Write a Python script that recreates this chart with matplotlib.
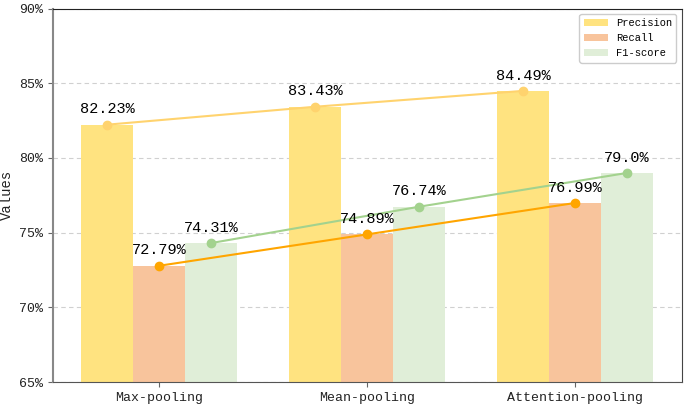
import matplotlib.pyplot as plt
import numpy as np
from matplotlib.ticker import FuncFormatter

plt.rcParams['font.family'] = ['Liberation Mono', 'DejaVu Sans Mono']

methods = ['Max-pooling', 'Mean-pooling', 'Attention-pooling']
precision = [82.23, 83.43, 84.49]
recall = [72.79, 74.89, 76.99]
f1 = [74.31, 76.74, 79.0]
f1_labels = ['74.31%', '76.74%', '79.0%']

x = np.arange(len(methods))
w = 0.25

fig = plt.figure(figsize=(6.85, 4.07), dpi=100)
ax = fig.add_axes([0.077, 0.061, 0.918, 0.918])

ax.bar(x - w, precision, w, color='#FFE380', label='Precision', zorder=2)
ax.bar(x, recall, w, color='#F8C49C', label='Recall', zorder=2)
ax.bar(x + w, f1, w, color='#E0EED8', label='F1-score', zorder=2)

ax.plot(x - w, precision, '-o', color='#FFD36E', lw=1.5, ms=6, zorder=3)
ax.plot(x, recall, '-o', color='#FFA500', lw=1.5, ms=6, zorder=3)
ax.plot(x + w, f1, '-o', color='#A3D28E', lw=1.5, ms=6, zorder=3)

for i in range(len(methods)):
    ax.annotate(f'{precision[i]}%', (x[i] - w, precision[i]), xytext=(0, 6),
                textcoords='offset points', ha='center', va='bottom', fontsize=11)
    ax.annotate(f'{recall[i]}%', (x[i], recall[i]), xytext=(0, 6),
                textcoords='offset points', ha='center', va='bottom', fontsize=11)
    ax.annotate(f1_labels[i], (x[i] + w, f1[i]), xytext=(0, 6),
                textcoords='offset points', ha='center', va='bottom', fontsize=11)

ax.set_ylim(65, 90)
ax.set_yticks([65, 70, 75, 80, 85, 90])
ax.yaxis.set_major_formatter(FuncFormatter(lambda v, p: f'{v:.0f}%'))
ax.set_xticks(x)
ax.set_xticklabels(methods)
ax.tick_params(labelsize=9.5, colors='#222222')
ax.tick_params(axis='both', color='#666666')
ax.set_ylabel('Values', fontsize=10, color='#222222')
ax.grid(axis='y', ls=(0, (4, 3)), color='#d0d0d0', lw=0.8, zorder=0)

ax.spines['left'].set_color('#888888')
ax.spines['left'].set_linewidth(1.5)
ax.spines['bottom'].set_color('#555555')
ax.spines['top'].set_color('#222222')
ax.spines['right'].set_color('#444444')

ax.legend(loc='upper right', fontsize=7.5, handlelength=2.3, framealpha=1)

plt.savefig('out.png', dpi=100)
